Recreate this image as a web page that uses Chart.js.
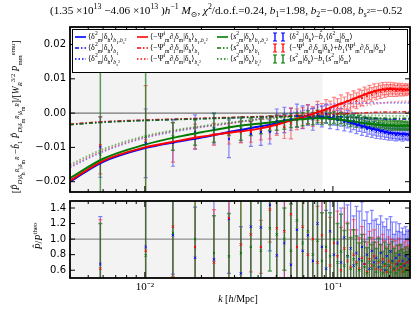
<!DOCTYPE html>
<html>
<head>
<meta charset="utf-8">
<script src="https://cdn.jsdelivr.net/npm/chart.js@4.4.1/dist/chart.umd.min.js"></script>
<style>
  body { margin:0; background:#fff; }
  #wrap { position:relative; width:416px; height:313px; overflow:hidden; font-family:"Liberation Serif","DejaVu Serif",serif; color:#000; }
  canvas { position:absolute; left:0; }
  #cTop { top:0; }
  #cBot { top:196px; }
  .txt { position:absolute; white-space:nowrap; }
  sup, sub { font-size:70%; line-height:0; }
  sub sub, sub sup, sup sub { font-size:85%; }
  #title { left:50px; top:4px; font-size:11.2px; }
  #ylabTop { left:17px; top:117px; font-size:9.5px; transform:translate(-50%,-50%) rotate(-90deg); }
  #ylabBot { left:38px; top:236px; font-size:10px; transform:translate(-50%,-50%) rotate(-90deg); }
  #xlab { left:238px; top:298px; font-size:10px; transform:translate(-50%,-50%); }
  #legend { position:absolute; left:72px; top:29px; width:334px; height:42px; border:1px solid #000; background:#fff; font-size:8px; }
  .lg { position:absolute; white-space:nowrap; line-height:10px; height:10px; }
  .lg svg { vertical-align:middle; margin-right:2px; }
</style>
</head>
<body>
<div id="wrap">
  <canvas id="cTop" width="416" height="197"></canvas>
  <canvas id="cBot" width="416" height="104"></canvas>
  <div class="txt" id="title">(1.35 ×10<sup>13</sup> −4.06 ×10<sup>13</sup> )<i>h</i><sup>−1</sup> <i>M</i><sub>⊙</sub>, <i>χ</i><sup>2</sup>/d.o.f.=0.24, <i>b</i><sub>1</sub>=1.98, <i>b</i><sub>2</sub>=−0.08, <i>b</i><sub><i>s</i><sup>2</sup></sub>=−0.52</div>
  <div class="txt" id="ylabTop">[<i>P̂</i><sub><i>D</i>|<i>δ</i><sub>h</sub><sup><i>R</i></sup>|<i>δ</i><sub>m</sub><sup><i>R</i></sup></sub> −<i>b̂</i><sub>1</sub> <i>P̂</i><sub><i>D</i>|<i>δ</i><sub>m</sub><sup><i>R</i></sup>|<i>δ</i><sub>m</sub><sup><i>R</i></sup></sub>]/[<i>W</i><sub><i>R</i></sub><sup>3/2</sup> <i>P</i><sub>mm</sub><sup>emu</sup>]</div>
  <div class="txt" id="ylabBot"><i>P̂</i>/<i>P</i><sup>theo</sup></div>
  <div class="txt" id="xlab"><i>k</i> [<i>h</i>/Mpc]</div>
  <div id="legend"></div>
</div>
<script>
// k bins of the measured points
const kBins = [
  0.0058, 0.0101, 0.0141, 0.0185, 0.0233, 0.0280, 0.0324, 0.0366, 0.0414, 0.0462,
  0.0503, 0.0552, 0.0598, 0.0644, 0.0690, 0.0736, 0.0782, 0.0828, 0.0874, 0.0920,
  0.0966, 0.1012, 0.1058, 0.1104, 0.1150, 0.1196, 0.1242, 0.1288, 0.1334, 0.1380,
  0.1426, 0.1472, 0.1518, 0.1564, 0.1610, 0.1656, 0.1702, 0.1748, 0.1794, 0.1840,
  0.1886, 0.1932, 0.1978, 0.2024, 0.2070, 0.2116, 0.2162, 0.2208, 0.2254, 0.2300,
  0.2346, 0.2392, 0.2438, 0.2484, 0.2530];

// top panel, measured
const topBlue = [
  -0.0099, -0.0088, -0.0087, -0.0055, -0.0045, -0.0075, -0.0050, -0.0061, -0.0055, -0.0055,
  -0.0024, -0.0020, -0.0018, -0.0008, -0.0012, -0.0006, -0.0018, -0.0004, -0.0010, -0.0002,
  -0.0016, -0.0008, -0.0020, -0.0012, -0.0026, -0.0018, -0.0030, -0.0024, -0.0036, -0.0030,
  -0.0042, -0.0034, -0.0046, -0.0040, -0.0050, -0.0044, -0.0054, -0.0047, -0.0056, -0.0050,
  -0.0058, -0.0053, -0.0061, -0.0055, -0.0062, -0.0057, -0.0064, -0.0058, -0.0063, -0.0060,
  -0.0066, -0.0059, -0.0064, -0.0061, -0.0065];
const topBlueErr = [
  0.0088, 0.0100, 0.0068, 0.0050, 0.0045, 0.0055, 0.0035, 0.0036, 0.0039, 0.0035,
  0.0036, 0.0037, 0.0032, 0.0034, 0.0033, 0.0030, 0.0032, 0.0029, 0.0030, 0.0028,
  0.0029, 0.0027, 0.0028, 0.0026, 0.0026, 0.0025, 0.0025, 0.0024, 0.0024, 0.0023,
  0.0023, 0.0022, 0.0022, 0.0021, 0.0021, 0.0020, 0.0020, 0.0020, 0.0019, 0.0019,
  0.0019, 0.0018, 0.0018, 0.0018, 0.0017, 0.0017, 0.0017, 0.0017, 0.0016, 0.0016,
  0.0016, 0.0016, 0.0015, 0.0015, 0.0015];
const topRed = [
  -0.0094, -0.0080, -0.0085, -0.0068, -0.0062, -0.0060, -0.0055, -0.0055, -0.0048, -0.0045,
  -0.0035, -0.0040, -0.0030, -0.0018, -0.0014, -0.0004, -0.0010, 0.0006, 0.0000, 0.0012,
  0.0008, 0.0020, 0.0016, 0.0028, 0.0022, 0.0035, 0.0030, 0.0042, 0.0036, 0.0048,
  0.0044, 0.0055, 0.0049, 0.0060, 0.0054, 0.0065, 0.0058, 0.0068, 0.0062, 0.0071,
  0.0064, 0.0072, 0.0066, 0.0073, 0.0066, 0.0072, 0.0065, 0.0071, 0.0066, 0.0072,
  0.0065, 0.0070, 0.0066, 0.0071, 0.0067];
const topRedErr = [
  0.0083, 0.0160, 0.0058, 0.0036, 0.0032, 0.0030, 0.0032, 0.0030, 0.0030, 0.0030,
  0.0030, 0.0034, 0.0045, 0.0030, 0.0030, 0.0029, 0.0029, 0.0028, 0.0028, 0.0027,
  0.0027, 0.0026, 0.0026, 0.0025, 0.0025, 0.0024, 0.0024, 0.0023, 0.0023, 0.0022,
  0.0022, 0.0021, 0.0021, 0.0021, 0.0020, 0.0020, 0.0019, 0.0019, 0.0019, 0.0018,
  0.0018, 0.0018, 0.0017, 0.0017, 0.0017, 0.0016, 0.0016, 0.0016, 0.0016, 0.0015,
  0.0015, 0.0015, 0.0015, 0.0014, 0.0014];
const topGreen = [
  -0.0120, -0.0069, -0.0068, -0.0057, -0.0043, -0.0040, -0.0045, -0.0040, -0.0035, -0.0030,
  -0.0028, -0.0025, -0.0022, -0.0020, -0.0018, -0.0012, -0.0016, -0.0010, -0.0015, -0.0011,
  -0.0017, -0.0013, -0.0019, -0.0014, -0.0021, -0.0017, -0.0024, -0.0019, -0.0026, -0.0021,
  -0.0028, -0.0024, -0.0030, -0.0026, -0.0032, -0.0027, -0.0033, -0.0029, -0.0035, -0.0030,
  -0.0035, -0.0031, -0.0036, -0.0032, -0.0037, -0.0033, -0.0037, -0.0034, -0.0038, -0.0034,
  -0.0038, -0.0035, -0.0038, -0.0035, -0.0039];
const topGreenErr = [
  0.0350, 0.0300, 0.0040, 0.0037, 0.0042, 0.0025, 0.0034, 0.0025, 0.0025, 0.0022,
  0.0022, 0.0022, 0.0020, 0.0020, 0.0019, 0.0019, 0.0018, 0.0018, 0.0018, 0.0017,
  0.0017, 0.0017, 0.0016, 0.0016, 0.0016, 0.0015, 0.0015, 0.0015, 0.0015, 0.0015,
  0.0014, 0.0014, 0.0014, 0.0014, 0.0014, 0.0013, 0.0013, 0.0013, 0.0013, 0.0013,
  0.0013, 0.0013, 0.0013, 0.0013, 0.0013, 0.0012, 0.0012, 0.0012, 0.0012, 0.0012,
  0.0011, 0.0011, 0.0011, 0.0011, 0.0011];

// bottom panel, P/Ptheo
const ratioBlue = [
  0.68, 0.90, 1.05, 0.76, 0.74, 1.26, 0.56, 1.16, 1.15, 1.44,
  0.79, 0.95, 0.67, 1.12, 0.85, 1.05, 0.72, 1.20, 0.90, 0.62,
  1.10, 0.80, 0.95, 0.70, 1.02, 0.78, 0.88, 0.66, 0.82, 0.74,
  0.90, 0.68, 0.80, 0.62, 0.85, 0.70, 0.76, 0.64, 0.82, 0.70,
  0.60, 0.78, 0.66, 0.84, 0.72, 0.62, 0.76, 0.68, 0.80, 0.64,
  0.72, 0.66, 0.78, 0.70, 0.74];
const ratioBlueErr = [
  0.61, 1.20, 0.50, 0.65, 0.90, 0.70, 0.60, 0.90, 0.80, 0.59,
  0.80, 0.90, 0.90, 0.90, 0.85, 0.80, 0.85, 0.80, 0.80, 0.75,
  0.75, 0.70, 0.72, 0.70, 0.68, 0.66, 0.65, 0.64, 0.60, 0.62,
  0.58, 0.56, 0.55, 0.58, 0.52, 0.54, 0.50, 0.55, 0.48, 0.52,
  0.56, 0.48, 0.46, 0.45, 0.50, 0.44, 0.46, 0.42, 0.40, 0.45,
  0.42, 0.40, 0.38, 0.40, 0.38];
const ratioRed = [
  0.62, 0.85, 1.16, 0.90, 0.70, 1.27, 0.93, 1.06, 0.90, 1.38,
  1.14, 1.10, 1.32, 0.90, 1.16, 0.80, 1.00, 0.70, 1.05, 0.85,
  0.66, 0.95, 0.78, 0.60, 0.88, 0.72, 0.64, 0.80, 0.70, 0.62,
  0.76, 0.68, 0.58, 0.74, 0.66, 0.78, 0.62, 0.70, 0.60, 0.74,
  0.66, 0.58, 0.72, 0.64, 0.70, 0.60, 0.68, 0.62, 0.72, 0.64,
  0.58, 0.68, 0.62, 0.70, 0.64];
const ratioRedErr = [
  0.63, 1.30, 0.64, 0.80, 0.68, 0.80, 0.90, 0.48, 0.34, 0.42,
  0.80, 0.90, 0.90, 0.90, 0.80, 0.75, 0.75, 0.72, 0.70, 0.65,
  0.62, 0.60, 0.58, 0.55, 0.52, 0.50, 0.48, 0.45, 0.42, 0.40,
  0.40, 0.38, 0.38, 0.36, 0.36, 0.34, 0.34, 0.33, 0.33, 0.32,
  0.32, 0.32, 0.31, 0.31, 0.30, 0.30, 0.30, 0.30, 0.29, 0.29,
  0.29, 0.28, 0.28, 0.28, 0.28];
const ratioGreen = [
  0.20, 0.79, 1.08, 1.00, 0.82, 0.78, 0.82, 0.90, 0.85, 1.14,
  1.06, 1.00, 0.85, 1.24, 0.95, 1.10, 0.80, 0.98, 0.72, 0.90,
  0.78, 1.00, 0.70, 0.84, 0.66, 0.78, 0.62, 0.74, 0.68, 0.60,
  0.72, 0.64, 0.56, 0.70, 0.62, 0.66, 0.58, 0.72, 0.64, 0.56,
  0.68, 0.60, 0.66, 0.58, 0.70, 0.62, 0.56, 0.66, 0.60, 0.68,
  0.62, 0.58, 0.66, 0.60, 0.64];
const ratioGreenErr = [
  1.00, 2.00, 0.60, 1.00, 0.48, 0.55, 0.80, 0.80, 0.90, 0.55,
  0.80, 0.40, 0.60, 0.80, 0.75, 0.70, 0.70, 0.66, 0.62, 0.60,
  0.56, 0.55, 0.50, 0.48, 0.45, 0.42, 0.40, 0.38, 0.36, 0.35,
  0.34, 0.33, 0.33, 0.32, 0.31, 0.30, 0.30, 0.29, 0.29, 0.28,
  0.28, 0.28, 0.27, 0.27, 0.27, 0.26, 0.26, 0.26, 0.25, 0.25,
  0.25, 0.25, 0.24, 0.24, 0.24];

// model curves
const modelK = [0.004, 0.006, 0.01, 0.015, 0.02, 0.03, 0.04, 0.05, 0.06, 0.07,
  0.08, 0.09, 0.1, 0.12, 0.14, 0.16, 0.18, 0.2, 0.23, 0.26];
const blueFull = [-0.0200, -0.0142, -0.0102, -0.0083, -0.0071, -0.0052, -0.0040, -0.0030, -0.0020, -0.0016,
  -0.0013, -0.0013, -0.0015, -0.0025, -0.0036, -0.0045, -0.0052, -0.0057, -0.0060, -0.0062];
const redFull = [-0.0197, -0.0139, -0.0100, -0.0081, -0.0069, -0.0055, -0.0046, -0.0034, -0.0021, -0.0011,
  0.0000, 0.0009, 0.0019, 0.0035, 0.0049, 0.0061, 0.0068, 0.0070, 0.0069, 0.0068];
const greenFull = [-0.0190, -0.0133, -0.0092, -0.0069, -0.0056, -0.0039, -0.0031, -0.0025, -0.0019, -0.0017,
  -0.0015, -0.0015, -0.0017, -0.0022, -0.0028, -0.0032, -0.0035, -0.0036, -0.0037, -0.0037];
const blueB1 = [-0.0033, -0.0026, -0.0021, -0.0018, -0.0016, -0.0013, -0.0011, -0.0010, -0.0009, -0.0008,
  -0.0008, -0.0009, -0.0010, -0.0012, -0.0014, -0.0016, -0.0017, -0.0018, -0.0018, -0.0018];
const redB1 = [-0.0032, -0.0025, -0.0020, -0.0017, -0.0015, -0.0012, -0.0010, -0.0009, -0.0008, -0.0006,
  -0.0005, -0.0004, -0.0003, -0.0001, 0.0000, 0.0002, 0.0003, 0.0003, 0.0004, 0.0004];
const greenB1 = [-0.0034, -0.0027, -0.0022, -0.0019, -0.0017, -0.0014, -0.0012, -0.0011, -0.0010, -0.0010,
  -0.0010, -0.0010, -0.0011, -0.0012, -0.0013, -0.0014, -0.0014, -0.0015, -0.0015, -0.0015];
const blueBs = [-0.0158, -0.0112, -0.0072, -0.0052, -0.0041, -0.0028, -0.0017, -0.0008, 0.0000, 0.0008,
  0.0015, 0.0022, 0.0026, 0.0028, 0.0029, 0.0030, 0.0030, 0.0030, 0.0030, 0.0030];
const redBs = [-0.0155, -0.0110, -0.0070, -0.0050, -0.0040, -0.0028, -0.0018, -0.0012, -0.0008, -0.0003,
  0.0000, 0.0004, 0.0008, 0.0014, 0.0020, 0.0025, 0.0029, 0.0032, 0.0034, 0.0035];
const greenBs = [-0.0150, -0.0105, -0.0067, -0.0048, -0.0038, -0.0026, -0.0019, -0.0015, -0.0012, -0.0010,
  -0.0008, -0.0007, -0.0006, -0.0006, -0.0006, -0.0007, -0.0007, -0.0008, -0.0008, -0.0008];

// axes
const xMajor = [0.01, 0.1];
const xLabels = ['10⁻²', '10⁻¹'];
const xMinor = [0.004, 0.005, 0.006, 0.007, 0.008, 0.009, 0.02, 0.03, 0.04, 0.05, 0.06, 0.07, 0.08, 0.09, 0.2];
const yTicksTop = [-0.02, -0.01, 0, 0.01, 0.02];
const yTicksBot = [0.6, 0.8, 1.0, 1.2, 1.4];
const shadeK = 0.088;

const BLUE = '#0000ff', RED = '#ff0000', GREEN = '#007a00';
const BAR = { b: 'rgba(30,30,255,0.55)', r: 'rgba(255,30,30,0.55)', g: 'rgba(20,120,20,0.7)' };

const panelDeco = {
  id: 'panelDeco',
  beforeDatasetsDraw(chart, args, opts) {
    const { ctx, chartArea: a, scales: { x, y } } = chart;
    ctx.save();
    ctx.fillStyle = '#f3f3f3';
    ctx.fillRect(a.left, a.top, x.getPixelForValue(shadeK) - a.left, a.bottom - a.top);
    const yr = y.getPixelForValue(opts.refY);
    ctx.strokeStyle = opts.refColor;
    ctx.lineWidth = 1;
    ctx.beginPath(); ctx.moveTo(a.left, yr); ctx.lineTo(a.right, yr); ctx.stroke();
    ctx.beginPath(); ctx.rect(a.left, a.top, a.right - a.left, a.bottom - a.top); ctx.clip();
    chart.data.datasets.slice().reverse().forEach(ds => {
      if (!ds.errs) return;
      ctx.strokeStyle = ds.barColor;
      ctx.lineWidth = ds.barWidth;
      ds.data.forEach((p, i) => {
        const px = x.getPixelForValue(p.x);
        const y1 = y.getPixelForValue(p.y + ds.errs[i]);
        const y2 = y.getPixelForValue(p.y - ds.errs[i]);
        ctx.beginPath();
        ctx.moveTo(px, y1); ctx.lineTo(px, y2);
        ctx.moveTo(px - 2, y1); ctx.lineTo(px + 2, y1);
        ctx.moveTo(px - 2, y2); ctx.lineTo(px + 2, y2);
        ctx.stroke();
      });
    });
    ctx.restore();
  },
  afterDraw(chart, args, opts) {
    const { ctx, chartArea: a, scales: { x, y } } = chart;
    ctx.save();
    ctx.strokeStyle = '#000';
    ctx.lineWidth = 1;
    ctx.beginPath();
    const tickX = (v, len) => {
      const px = x.getPixelForValue(v);
      ctx.moveTo(px, a.bottom); ctx.lineTo(px, a.bottom - len);
      ctx.moveTo(px, a.top); ctx.lineTo(px, a.top + len);
    };
    xMinor.forEach(v => tickX(v, 3));
    xMajor.forEach(v => tickX(v, 6));
    opts.yTicks.forEach(v => {
      const py = y.getPixelForValue(v);
      ctx.moveTo(a.left, py); ctx.lineTo(a.left + 5, py);
      ctx.moveTo(a.right, py); ctx.lineTo(a.right - 5, py);
    });
    ctx.stroke();
    ctx.lineWidth = 1.8;
    ctx.strokeRect(a.left, a.top, a.right - a.left, a.bottom - a.top);
    ctx.restore();
  }
};

function pts(ks, vals) { return ks.map((kk, i) => ({ x: kk, y: vals[i] })); }

function errSet(vals, errs, color, barColor, barWidth) {
  return {
    data: pts(kBins, vals), errs: errs, barColor: barColor, barWidth: barWidth,
    pointStyle: 'crossRot', pointRadius: 1.5, borderColor: color, borderWidth: 1, showLine: false
  };
}

function curve(vals, color, width, dash) {
  return {
    data: pts(modelK, vals), showLine: true, pointRadius: 0, borderColor: color,
    borderWidth: width, borderDash: dash, cubicInterpolationMode: 'monotone', fill: false
  };
}

function noPad(s) { s.paddingTop = 0; s.paddingBottom = 0; s.paddingLeft = 0; s.paddingRight = 0; }

function xScale(showLabels) {
  return {
    type: 'logarithmic', min: 0.004, max: 0.257, display: showLabels,
    grid: { display: false, drawTicks: false }, border: { display: false },
    afterBuildTicks: s => { s.ticks = xMinor.concat(xMajor).sort((a, b) => a - b).map(v => ({ value: v })); },
    afterFit: s => { if (showLabels) s.height = 22; noPad(s); },
    ticks: {
      autoSkip: false, maxRotation: 0, padding: 3, color: '#000',
      font: { family: 'Liberation Serif', size: 11 },
      callback: v => {
        const i = xMajor.findIndex(m => Math.abs(m - v) / m < 1e-6);
        return i >= 0 ? xLabels[i] : '';
      }
    }
  };
}

function yScale(min, max, ticks, fmt) {
  return {
    min: min, max: max,
    grid: { display: false, drawTicks: false }, border: { display: false },
    afterBuildTicks: s => { s.ticks = ticks.map(v => ({ value: v })); },
    afterFit: s => { s.width = 70; noPad(s); },
    ticks: { padding: 4, color: '#000', font: { family: 'DejaVu Sans', size: 10 }, callback: fmt }
  };
}

const common = { responsive: false, animation: false, events: [] };

new Chart(document.getElementById('cTop'), {
  type: 'scatter',
  data: {
    datasets: [
      errSet(topGreen, topGreenErr, GREEN, BAR.g, 1.5),
      errSet(topRed, topRedErr, RED, BAR.r, 1.2),
      errSet(topBlue, topBlueErr, BLUE, BAR.b, 1.2),
      curve(greenFull, GREEN, 2, []),
      curve(redFull, RED, 2, []),
      curve(blueFull, BLUE, 2, []),
      curve(greenB1, 'rgba(0,110,0,0.85)', 1.5, [4, 2, 1.5, 2]),
      curve(redB1, 'rgba(230,0,0,0.8)', 1.5, [4, 2, 1.5, 2]),
      curve(blueB1, 'rgba(0,0,230,0.8)', 1.5, [4, 2, 1.5, 2]),
      curve(greenBs, 'rgba(0,140,0,0.55)', 1.8, [1.5, 2]),
      curve(redBs, 'rgba(255,60,90,0.55)', 1.8, [1.5, 2]),
      curve(blueBs, 'rgba(60,60,255,0.6)', 1.8, [1.5, 2])
    ]
  },
  options: Object.assign({}, common, {
    layout: { padding: { top: 27, right: 6, bottom: 1, left: 0 } },
    scales: {
      x: xScale(false),
      y: yScale(-0.0230, 0.0251, yTicksTop, v => (Math.abs(v) < 1e-9 ? '0.00' : v.toFixed(2)).replace('-', '−'))
    },
    plugins: { legend: { display: false }, tooltip: { enabled: false },
      panelDeco: { refY: 0, refColor: '#555', yTicks: yTicksTop } }
  }),
  plugins: [panelDeco]
});

new Chart(document.getElementById('cBot'), {
  type: 'scatter',
  data: {
    datasets: [
      errSet(ratioGreen, ratioGreenErr, GREEN, BAR.g, 1.5),
      errSet(ratioRed, ratioRedErr, RED, BAR.r, 1.2),
      errSet(ratioBlue, ratioBlueErr, BLUE, BAR.b, 1.2)
    ]
  },
  options: Object.assign({}, common, {
    layout: { padding: { top: 0, right: 6, bottom: 0, left: 0 } },
    scales: {
      x: xScale(true),
      y: yScale(0.5, 1.49, yTicksBot, v => v.toFixed(1))
    },
    plugins: { legend: { display: false }, tooltip: { enabled: false },
      panelDeco: { refY: 1, refColor: '#777', yTicks: yTicksBot } }
  }),
  plugins: [panelDeco]
});

// legend
const lgColors = [BLUE, RED, GREEN];
const lgBases = [
  '⟨δ<sup>2</sup><sub>m</sub>|δ<sub>h</sub>⟩',
  '⟨−Ψ<sup>i</sup><sub>m</sub>∂<sub>i</sub>δ<sub>m</sub>|δ<sub>h</sub>⟩',
  '⟨<i>s</i><sup>2</sup><sub>m</sub>|δ<sub>h</sub>⟩'];
const lgSubs = [
  '<sub><i>b</i><sub>1</sub>,<i>b</i><sub><i>s</i><sup>2</sup></sub></sub>',
  '<sub><i>b</i><sub>1</sub></sub>',
  '<sub><i>b</i><sub><i>s</i><sup>2</sup></sub></sub>'];
const lgDash = ['', '4 2 1.5 2', '1.5 2'];
const lgMeas = [
  '⟨δ<sup>2</sup><sub>m</sub>|δ<sub>h</sub>⟩−<i>b̂</i><sub>1</sub>⟨δ<sup>2</sup><sub>m</sub>|δ<sub>m</sub>⟩',
  '⟨−Ψ<sup>i</sup><sub>m</sub>∂<sub>i</sub>δ<sub>m</sub>|δ<sub>h</sub>⟩+<i>b̂</i><sub>1</sub>⟨Ψ<sup>i</sup><sub>m</sub>∂<sub>i</sub>δ<sub>m</sub>|δ<sub>m</sub>⟩',
  '⟨<i>s</i><sup>2</sup><sub>m</sub>|δ<sub>h</sub>⟩−<i>b̂</i><sub>1</sub>⟨<i>s</i><sup>2</sup><sub>m</sub>|δ<sub>m</sub>⟩'];
const colLeft = [2, 64, 144];
const rowTop = [2, 13, 24];
let html = '';
for (let r = 0; r < 3; r++) {
  for (let c = 0; c < 3; c++) {
    const svg = `<svg width="11" height="6"><line x1="0" y1="3" x2="11" y2="3" stroke="${lgColors[c]}" stroke-width="1.6" stroke-dasharray="${lgDash[r]}"/></svg>`;
    html += `<div class="lg" style="left:${colLeft[c]}px;top:${rowTop[r]}px">${svg}${lgBases[c]}${lgSubs[r]}</div>`;
  }
  const col = lgColors[r];
  const bar = x => `<line x1="${x}" y1="1" x2="${x}" y2="9" stroke="${col}" stroke-width="1.3"/><line x1="${x - 2}" y1="1" x2="${x + 2}" y2="1" stroke="${col}"/><line x1="${x - 2}" y1="9" x2="${x + 2}" y2="9" stroke="${col}"/>`;
  const esvg = `<svg width="15" height="10">${bar(3)}${bar(11)}</svg>`;
  html += `<div class="lg" style="left:199px;top:${rowTop[r]}px">${esvg}${lgMeas[r]}</div>`;
}
document.getElementById('legend').innerHTML = html;
</script>
</body>
</html>
